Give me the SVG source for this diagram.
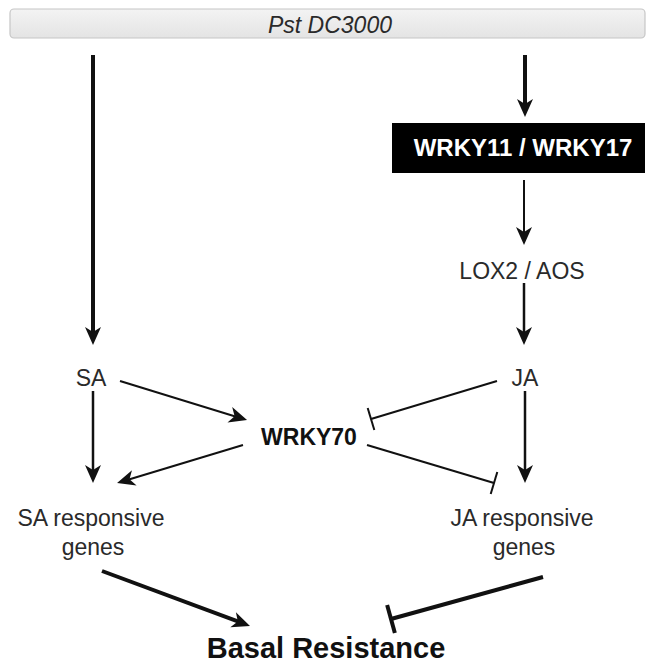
<svg xmlns="http://www.w3.org/2000/svg" width="647" height="664" viewBox="0 0 647 664">
  <defs>
    <linearGradient id="barGrad" x1="0" y1="0" x2="0" y2="1">
      <stop offset="0" stop-color="#f3f3f3"/>
      <stop offset="1" stop-color="#e4e4e4"/>
    </linearGradient>
    <marker id="arrow" viewBox="0 0 18 16" refX="10" refY="8" markerWidth="18" markerHeight="16" markerUnits="userSpaceOnUse" orient="auto" overflow="visible">
      <path d="M0,0 L18,8 L0,16 L5,8 Z" fill="#111"/>
    </marker>
    <marker id="tee" viewBox="-3 -12 6 24" refX="0" refY="0" markerWidth="6" markerHeight="24" markerUnits="userSpaceOnUse" orient="auto" overflow="visible">
      <line x1="0" y1="-11.5" x2="0" y2="11.5" stroke="#111" stroke-width="2"/>
    </marker>
    <marker id="teeBig" viewBox="-3 -15 6 30" refX="0" refY="0" markerWidth="6" markerHeight="30" markerUnits="userSpaceOnUse" orient="auto" overflow="visible">
      <line x1="0" y1="-14.5" x2="0" y2="14.5" stroke="#111" stroke-width="4"/>
    </marker>
  </defs>
  <style>
    text { font-family: "Liberation Sans", Arial, Helvetica, sans-serif; text-anchor: middle; fill: #2a2a2a; font-size: 23px; }
    .bold { font-weight: bold; fill: #111; }
    .big { font-size: 29px; }
    .box { fill: #ffffff; font-weight: bold; font-size: 24px; }
    .thin { stroke: #111; stroke-width: 2; fill: none; }
    .mid { stroke: #111; stroke-width: 2.5; fill: none; }
    .thick { stroke: #111; stroke-width: 4; fill: none; }
  </style>

  <g id="pst">
    <rect x="10" y="9" width="635" height="29" rx="4" ry="4" fill="url(#barGrad)" stroke="#c6c6c6" stroke-width="1.2"/>
    <text x="330" y="33" font-style="italic">Pst DC3000</text>
  </g>

  <g id="wrky11">
    <rect x="392" y="123" width="253" height="50" fill="#000"/>
    <text class="box" x="523" y="156">WRKY11 / WRKY17</text>
  </g>

  <g id="lox2">
    <text x="522" y="279">LOX2 / AOS</text>
  </g>

  <g id="sa">
    <text x="91" y="386">SA</text>
  </g>

  <g id="ja">
    <text x="525" y="386">JA</text>
  </g>

  <g id="wrky70">
    <text class="bold" x="309" y="445">WRKY70</text>
  </g>

  <g id="sa-genes">
    <text x="91" y="526">SA responsive</text>
    <text x="93" y="555">genes</text>
  </g>

  <g id="ja-genes">
    <text x="522" y="526">JA responsive</text>
    <text x="524" y="555">genes</text>
  </g>

  <g id="basal">
    <text class="bold big" x="326" y="658">Basal Resistance</text>
  </g>

  <g id="connectors">
    <line class="thick" x1="93" y1="55" x2="93" y2="337" marker-end="url(#arrow)"/>
    <line class="thick" x1="525" y1="55" x2="525" y2="109" marker-end="url(#arrow)"/>
    <line class="thin" x1="524" y1="180" x2="524" y2="237" marker-end="url(#arrow)"/>
    <line class="mid" x1="524" y1="283" x2="524" y2="337" marker-end="url(#arrow)"/>
    <line class="mid" x1="93" y1="391" x2="93" y2="475" marker-end="url(#arrow)"/>
    <line class="mid" x1="525" y1="391" x2="525" y2="475" marker-end="url(#arrow)"/>
    <line class="thin" x1="120" y1="381" x2="239.4" y2="417.7" marker-end="url(#arrow)"/>
    <line class="thin" x1="243" y1="445" x2="124.7" y2="480.7" marker-end="url(#arrow)"/>
    <line class="thin" x1="497" y1="381" x2="371" y2="419" marker-end="url(#tee)"/>
    <line class="thin" x1="367" y1="445" x2="494" y2="483" marker-end="url(#tee)"/>
    <line class="thick" x1="102" y1="571" x2="242.5" y2="623.2" marker-end="url(#arrow)"/>
    <line class="thick" x1="543" y1="577" x2="391" y2="619" marker-end="url(#teeBig)"/>
  </g>
</svg>
